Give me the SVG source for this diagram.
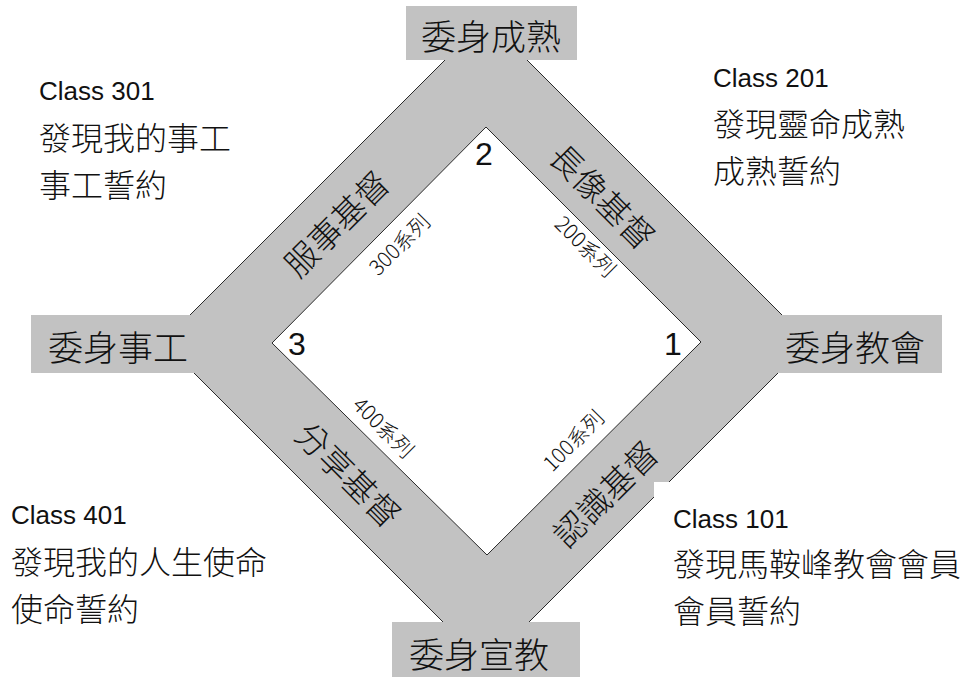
<svg xmlns="http://www.w3.org/2000/svg" width="964" height="677" viewBox="0 0 964 677">
<style>
.band{fill:#c2c2c2;stroke:#2a2a2a;stroke-width:1}
.inner{fill:#ffffff;stroke:#2a2a2a;stroke-width:1}
.box{fill:#c2c2c2}
.cjk{font-family:"Noto Sans CJK TC","Noto Sans CJK SC",sans-serif;font-weight:300;fill:#111}
.lat{font-family:"Liberation Sans",Arial,sans-serif;fill:#111}
.boxlbl{font-size:35px;text-anchor:middle}
.bandlbl{font-size:33px;text-anchor:middle}
.series{font-size:21px;text-anchor:middle}
.num{font-size:32px;text-anchor:middle}
.cls{font-size:26px}
.info{font-size:32px}
</style>
<rect width="964" height="677" fill="#ffffff"/>
<g id="frame">
<polygon class="band" points="486,19 809,342 486,665 163,342"/>
<polygon class="inner" points="486,127 701,342 487,555 272,343"/>
</g>
<g id="connectors">
<text class="cjk bandlbl" transform="translate(337,224) rotate(-45)" y="12">服事基督</text>
<text class="cjk bandlbl" transform="translate(602,197) rotate(45)" y="12">長像基督</text>
<text class="cjk bandlbl" transform="translate(348,475) rotate(45)" y="12">分享基督</text>
<text class="cjk bandlbl" transform="translate(606,494) rotate(-45)" y="12">認識基督</text>
<text class="cjk series" transform="translate(400,245) rotate(-45)" y="7">300系列</text>
<text class="cjk series" transform="translate(585,247) rotate(45)" y="7">200系列</text>
<text class="cjk series" transform="translate(383,428) rotate(45)" y="7">400系列</text>
<text class="cjk series" transform="translate(574,441) rotate(-45)" y="7">100系列</text>
</g>
<g id="n-top">
<rect class="box" x="406" y="6" width="171" height="54"/>
<text class="cjk boxlbl" x="491" y="50">委身成熟</text>
</g>
<g id="n-left">
<rect class="box" x="31" y="315" width="200" height="58"/>
<text class="cjk boxlbl" x="118" y="361">委身事工</text>
</g>
<g id="n-right">
<rect class="box" x="742" y="315" width="200" height="58"/>
<text class="cjk boxlbl" x="855" y="361">委身教會</text>
</g>
<g id="n-bottom">
<rect class="box" x="392" y="622" width="188" height="55"/>
<text class="cjk boxlbl" x="479" y="668">委身宣教</text>
</g>
<g id="n-numbers">
<text class="lat num" x="484" y="165">2</text>
<text class="lat num" x="297" y="355">3</text>
<text class="lat num" x="673" y="355">1</text>
</g>
<g id="n-class301">
<text class="lat cls" x="39" y="100">Class 301</text>
<text class="cjk info" x="39" y="150">發現我的事工</text>
<text class="cjk info" x="39" y="197">事工誓約</text>
</g>
<g id="n-class201">
<text class="lat cls" x="713" y="87">Class 201</text>
<text class="cjk info" x="713" y="136">發現靈命成熟</text>
<text class="cjk info" x="713" y="183">成熟誓約</text>
</g>
<g id="n-class401">
<text class="lat cls" x="11" y="524">Class 401</text>
<text class="cjk info" x="11" y="574">發現我的人生使命</text>
<text class="cjk info" x="11" y="621">使命誓約</text>
</g>
<g id="n-class101">
<rect x="654" y="482" width="310" height="160" fill="#ffffff"/>
<text class="lat cls" x="673" y="528">Class 101</text>
<text class="cjk info" x="673" y="576">發現馬鞍峰教會會員</text>
<text class="cjk info" x="673" y="623">會員誓約</text>
</g>
</svg>
